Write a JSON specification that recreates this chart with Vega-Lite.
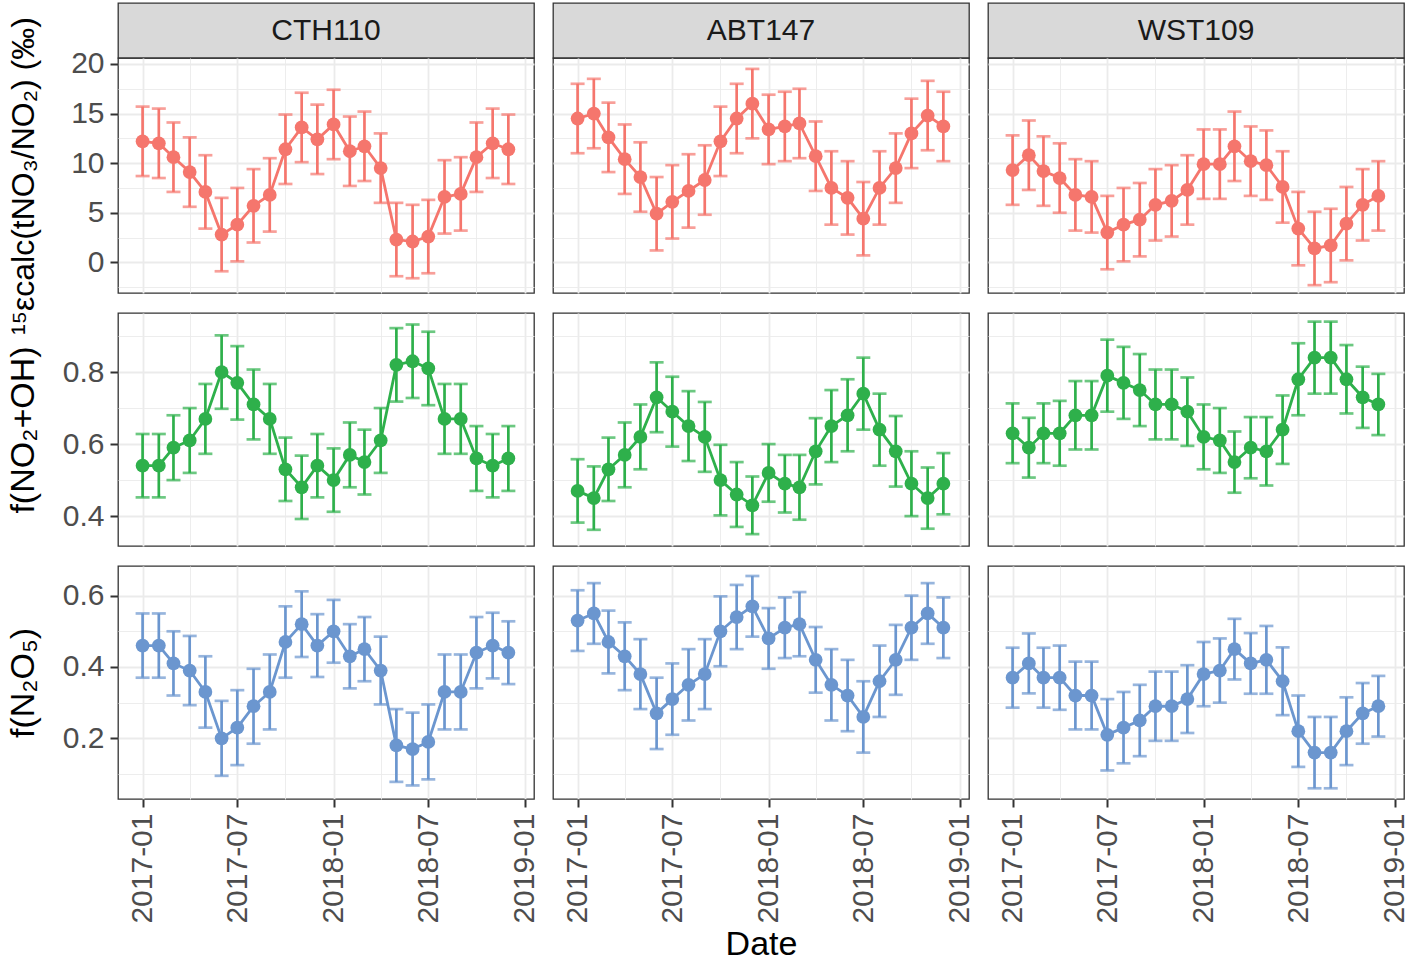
{
"$schema": "https://vega.github.io/schema/vega-lite/v6.json",
"background": "white",
"padding": {"left": 5, "top": 2, "right": 2, "bottom": 1},
"config": {
  "font": "Liberation Sans",
  "view": {"stroke": "#333333", "strokeWidth": 1.3},
  "axis": {"domain": false, "gridColor": "#EBEBEB", "labelColor": "#4D4D4D", "labelFontSize": 30, "labelFont": "Liberation Sans", "tickColor": "#333333", "tickWidth": 2, "tickSize": 8, "labelPadding": 6, "titleFont": "Liberation Sans", "titleFontSize": 34, "titleFontWeight": "normal", "titleColor": "#000000", "titleLimit": 2000},
  "axisY": {"minExtent": 57, "maxExtent": 57, "titlePadding": 21}
},
"datasets": {
"d": [
{"s":"CTH110","k":"eps","d":"2017-01-01","v":12.2,"e":3.5},
{"s":"CTH110","k":"eps","d":"2017-02-01","v":12.0,"e":3.5},
{"s":"CTH110","k":"eps","d":"2017-03-01","v":10.6,"e":3.5},
{"s":"CTH110","k":"eps","d":"2017-04-01","v":9.1,"e":3.5},
{"s":"CTH110","k":"eps","d":"2017-05-01","v":7.1,"e":3.7},
{"s":"CTH110","k":"eps","d":"2017-06-01","v":2.8,"e":3.7},
{"s":"CTH110","k":"eps","d":"2017-07-01","v":3.8,"e":3.7},
{"s":"CTH110","k":"eps","d":"2017-08-01","v":5.7,"e":3.7},
{"s":"CTH110","k":"eps","d":"2017-09-01","v":6.8,"e":3.7},
{"s":"CTH110","k":"eps","d":"2017-10-01","v":11.4,"e":3.5},
{"s":"CTH110","k":"eps","d":"2017-11-01","v":13.6,"e":3.5},
{"s":"CTH110","k":"eps","d":"2017-12-01","v":12.4,"e":3.5},
{"s":"CTH110","k":"eps","d":"2018-01-01","v":13.9,"e":3.5},
{"s":"CTH110","k":"eps","d":"2018-02-01","v":11.2,"e":3.5},
{"s":"CTH110","k":"eps","d":"2018-03-01","v":11.7,"e":3.5},
{"s":"CTH110","k":"eps","d":"2018-04-01","v":9.5,"e":3.5},
{"s":"CTH110","k":"eps","d":"2018-05-01","v":2.3,"e":3.7},
{"s":"CTH110","k":"eps","d":"2018-06-01","v":2.1,"e":3.7},
{"s":"CTH110","k":"eps","d":"2018-07-01","v":2.6,"e":3.7},
{"s":"CTH110","k":"eps","d":"2018-08-01","v":6.6,"e":3.7},
{"s":"CTH110","k":"eps","d":"2018-09-01","v":6.9,"e":3.7},
{"s":"CTH110","k":"eps","d":"2018-10-01","v":10.6,"e":3.5},
{"s":"CTH110","k":"eps","d":"2018-11-01","v":12.0,"e":3.5},
{"s":"CTH110","k":"eps","d":"2018-12-01","v":11.4,"e":3.5},
{"s":"ABT147","k":"eps","d":"2017-01-01","v":14.5,"e":3.5},
{"s":"ABT147","k":"eps","d":"2017-02-01","v":15.0,"e":3.5},
{"s":"ABT147","k":"eps","d":"2017-03-01","v":12.6,"e":3.5},
{"s":"ABT147","k":"eps","d":"2017-04-01","v":10.4,"e":3.5},
{"s":"ABT147","k":"eps","d":"2017-05-01","v":8.6,"e":3.5},
{"s":"ABT147","k":"eps","d":"2017-06-01","v":4.9,"e":3.7},
{"s":"ABT147","k":"eps","d":"2017-07-01","v":6.1,"e":3.7},
{"s":"ABT147","k":"eps","d":"2017-08-01","v":7.2,"e":3.7},
{"s":"ABT147","k":"eps","d":"2017-09-01","v":8.3,"e":3.5},
{"s":"ABT147","k":"eps","d":"2017-10-01","v":12.2,"e":3.5},
{"s":"ABT147","k":"eps","d":"2017-11-01","v":14.5,"e":3.5},
{"s":"ABT147","k":"eps","d":"2017-12-01","v":16.0,"e":3.5},
{"s":"ABT147","k":"eps","d":"2018-01-01","v":13.4,"e":3.5},
{"s":"ABT147","k":"eps","d":"2018-02-01","v":13.7,"e":3.5},
{"s":"ABT147","k":"eps","d":"2018-03-01","v":14.0,"e":3.5},
{"s":"ABT147","k":"eps","d":"2018-04-01","v":10.7,"e":3.5},
{"s":"ABT147","k":"eps","d":"2018-05-01","v":7.5,"e":3.7},
{"s":"ABT147","k":"eps","d":"2018-06-01","v":6.5,"e":3.7},
{"s":"ABT147","k":"eps","d":"2018-07-01","v":4.4,"e":3.7},
{"s":"ABT147","k":"eps","d":"2018-08-01","v":7.5,"e":3.7},
{"s":"ABT147","k":"eps","d":"2018-09-01","v":9.5,"e":3.5},
{"s":"ABT147","k":"eps","d":"2018-10-01","v":13.0,"e":3.5},
{"s":"ABT147","k":"eps","d":"2018-11-01","v":14.8,"e":3.5},
{"s":"ABT147","k":"eps","d":"2018-12-01","v":13.7,"e":3.5},
{"s":"WST109","k":"eps","d":"2017-01-01","v":9.3,"e":3.5},
{"s":"WST109","k":"eps","d":"2017-02-01","v":10.8,"e":3.5},
{"s":"WST109","k":"eps","d":"2017-03-01","v":9.2,"e":3.5},
{"s":"WST109","k":"eps","d":"2017-04-01","v":8.5,"e":3.5},
{"s":"WST109","k":"eps","d":"2017-05-01","v":6.8,"e":3.6},
{"s":"WST109","k":"eps","d":"2017-06-01","v":6.6,"e":3.6},
{"s":"WST109","k":"eps","d":"2017-07-01","v":3.0,"e":3.7},
{"s":"WST109","k":"eps","d":"2017-08-01","v":3.8,"e":3.7},
{"s":"WST109","k":"eps","d":"2017-09-01","v":4.3,"e":3.7},
{"s":"WST109","k":"eps","d":"2017-10-01","v":5.8,"e":3.6},
{"s":"WST109","k":"eps","d":"2017-11-01","v":6.2,"e":3.6},
{"s":"WST109","k":"eps","d":"2017-12-01","v":7.3,"e":3.5},
{"s":"WST109","k":"eps","d":"2018-01-01","v":9.9,"e":3.5},
{"s":"WST109","k":"eps","d":"2018-02-01","v":9.9,"e":3.5},
{"s":"WST109","k":"eps","d":"2018-03-01","v":11.7,"e":3.5},
{"s":"WST109","k":"eps","d":"2018-04-01","v":10.2,"e":3.5},
{"s":"WST109","k":"eps","d":"2018-05-01","v":9.8,"e":3.5},
{"s":"WST109","k":"eps","d":"2018-06-01","v":7.6,"e":3.6},
{"s":"WST109","k":"eps","d":"2018-07-01","v":3.4,"e":3.7},
{"s":"WST109","k":"eps","d":"2018-08-01","v":1.4,"e":3.7},
{"s":"WST109","k":"eps","d":"2018-09-01","v":1.7,"e":3.7},
{"s":"WST109","k":"eps","d":"2018-10-01","v":3.9,"e":3.7},
{"s":"WST109","k":"eps","d":"2018-11-01","v":5.8,"e":3.6},
{"s":"WST109","k":"eps","d":"2018-12-01","v":6.7,"e":3.5},
{"s":"CTH110","k":"oh","d":"2017-01-01","v":0.54,"e":0.088},
{"s":"CTH110","k":"oh","d":"2017-02-01","v":0.54,"e":0.088},
{"s":"CTH110","k":"oh","d":"2017-03-01","v":0.59,"e":0.09},
{"s":"CTH110","k":"oh","d":"2017-04-01","v":0.61,"e":0.09},
{"s":"CTH110","k":"oh","d":"2017-05-01","v":0.67,"e":0.097},
{"s":"CTH110","k":"oh","d":"2017-06-01","v":0.80,"e":0.102},
{"s":"CTH110","k":"oh","d":"2017-07-01","v":0.77,"e":0.102},
{"s":"CTH110","k":"oh","d":"2017-08-01","v":0.71,"e":0.097},
{"s":"CTH110","k":"oh","d":"2017-09-01","v":0.67,"e":0.097},
{"s":"CTH110","k":"oh","d":"2017-10-01","v":0.53,"e":0.088},
{"s":"CTH110","k":"oh","d":"2017-11-01","v":0.48,"e":0.088},
{"s":"CTH110","k":"oh","d":"2017-12-01","v":0.54,"e":0.088},
{"s":"CTH110","k":"oh","d":"2018-01-01","v":0.50,"e":0.088},
{"s":"CTH110","k":"oh","d":"2018-02-01","v":0.57,"e":0.09},
{"s":"CTH110","k":"oh","d":"2018-03-01","v":0.55,"e":0.09},
{"s":"CTH110","k":"oh","d":"2018-04-01","v":0.61,"e":0.09},
{"s":"CTH110","k":"oh","d":"2018-05-01","v":0.82,"e":0.102},
{"s":"CTH110","k":"oh","d":"2018-06-01","v":0.83,"e":0.102},
{"s":"CTH110","k":"oh","d":"2018-07-01","v":0.81,"e":0.102},
{"s":"CTH110","k":"oh","d":"2018-08-01","v":0.67,"e":0.097},
{"s":"CTH110","k":"oh","d":"2018-09-01","v":0.67,"e":0.097},
{"s":"CTH110","k":"oh","d":"2018-10-01","v":0.56,"e":0.09},
{"s":"CTH110","k":"oh","d":"2018-11-01","v":0.54,"e":0.088},
{"s":"CTH110","k":"oh","d":"2018-12-01","v":0.56,"e":0.09},
{"s":"ABT147","k":"oh","d":"2017-01-01","v":0.47,"e":0.088},
{"s":"ABT147","k":"oh","d":"2017-02-01","v":0.45,"e":0.088},
{"s":"ABT147","k":"oh","d":"2017-03-01","v":0.53,"e":0.088},
{"s":"ABT147","k":"oh","d":"2017-04-01","v":0.57,"e":0.09},
{"s":"ABT147","k":"oh","d":"2017-05-01","v":0.62,"e":0.09},
{"s":"ABT147","k":"oh","d":"2017-06-01","v":0.73,"e":0.097},
{"s":"ABT147","k":"oh","d":"2017-07-01","v":0.69,"e":0.097},
{"s":"ABT147","k":"oh","d":"2017-08-01","v":0.65,"e":0.097},
{"s":"ABT147","k":"oh","d":"2017-09-01","v":0.62,"e":0.097},
{"s":"ABT147","k":"oh","d":"2017-10-01","v":0.50,"e":0.098},
{"s":"ABT147","k":"oh","d":"2017-11-01","v":0.46,"e":0.09},
{"s":"ABT147","k":"oh","d":"2017-12-01","v":0.43,"e":0.08},
{"s":"ABT147","k":"oh","d":"2018-01-01","v":0.52,"e":0.08},
{"s":"ABT147","k":"oh","d":"2018-02-01","v":0.49,"e":0.08},
{"s":"ABT147","k":"oh","d":"2018-03-01","v":0.48,"e":0.09},
{"s":"ABT147","k":"oh","d":"2018-04-01","v":0.58,"e":0.092},
{"s":"ABT147","k":"oh","d":"2018-05-01","v":0.65,"e":0.1},
{"s":"ABT147","k":"oh","d":"2018-06-01","v":0.68,"e":0.1},
{"s":"ABT147","k":"oh","d":"2018-07-01","v":0.74,"e":0.1},
{"s":"ABT147","k":"oh","d":"2018-08-01","v":0.64,"e":0.1},
{"s":"ABT147","k":"oh","d":"2018-09-01","v":0.58,"e":0.098},
{"s":"ABT147","k":"oh","d":"2018-10-01","v":0.49,"e":0.09},
{"s":"ABT147","k":"oh","d":"2018-11-01","v":0.45,"e":0.085},
{"s":"ABT147","k":"oh","d":"2018-12-01","v":0.49,"e":0.085},
{"s":"WST109","k":"oh","d":"2017-01-01","v":0.63,"e":0.083},
{"s":"WST109","k":"oh","d":"2017-02-01","v":0.59,"e":0.083},
{"s":"WST109","k":"oh","d":"2017-03-01","v":0.63,"e":0.083},
{"s":"WST109","k":"oh","d":"2017-04-01","v":0.63,"e":0.09},
{"s":"WST109","k":"oh","d":"2017-05-01","v":0.68,"e":0.095},
{"s":"WST109","k":"oh","d":"2017-06-01","v":0.68,"e":0.095},
{"s":"WST109","k":"oh","d":"2017-07-01","v":0.79,"e":0.1},
{"s":"WST109","k":"oh","d":"2017-08-01","v":0.77,"e":0.1},
{"s":"WST109","k":"oh","d":"2017-09-01","v":0.75,"e":0.1},
{"s":"WST109","k":"oh","d":"2017-10-01","v":0.71,"e":0.097},
{"s":"WST109","k":"oh","d":"2017-11-01","v":0.71,"e":0.097},
{"s":"WST109","k":"oh","d":"2017-12-01","v":0.69,"e":0.095},
{"s":"WST109","k":"oh","d":"2018-01-01","v":0.62,"e":0.09},
{"s":"WST109","k":"oh","d":"2018-02-01","v":0.61,"e":0.09},
{"s":"WST109","k":"oh","d":"2018-03-01","v":0.55,"e":0.085},
{"s":"WST109","k":"oh","d":"2018-04-01","v":0.59,"e":0.085},
{"s":"WST109","k":"oh","d":"2018-05-01","v":0.58,"e":0.095},
{"s":"WST109","k":"oh","d":"2018-06-01","v":0.64,"e":0.095},
{"s":"WST109","k":"oh","d":"2018-07-01","v":0.78,"e":0.1},
{"s":"WST109","k":"oh","d":"2018-08-01","v":0.84,"e":0.1},
{"s":"WST109","k":"oh","d":"2018-09-01","v":0.84,"e":0.1},
{"s":"WST109","k":"oh","d":"2018-10-01","v":0.78,"e":0.095},
{"s":"WST109","k":"oh","d":"2018-11-01","v":0.73,"e":0.085},
{"s":"WST109","k":"oh","d":"2018-12-01","v":0.71,"e":0.085},
{"s":"CTH110","k":"n2o5","d":"2017-01-01","v":0.46,"e":0.09},
{"s":"CTH110","k":"n2o5","d":"2017-02-01","v":0.46,"e":0.09},
{"s":"CTH110","k":"n2o5","d":"2017-03-01","v":0.41,"e":0.09},
{"s":"CTH110","k":"n2o5","d":"2017-04-01","v":0.39,"e":0.097},
{"s":"CTH110","k":"n2o5","d":"2017-05-01","v":0.33,"e":0.1},
{"s":"CTH110","k":"n2o5","d":"2017-06-01","v":0.20,"e":0.105},
{"s":"CTH110","k":"n2o5","d":"2017-07-01","v":0.23,"e":0.105},
{"s":"CTH110","k":"n2o5","d":"2017-08-01","v":0.29,"e":0.105},
{"s":"CTH110","k":"n2o5","d":"2017-09-01","v":0.33,"e":0.105},
{"s":"CTH110","k":"n2o5","d":"2017-10-01","v":0.47,"e":0.1},
{"s":"CTH110","k":"n2o5","d":"2017-11-01","v":0.52,"e":0.092},
{"s":"CTH110","k":"n2o5","d":"2017-12-01","v":0.46,"e":0.088},
{"s":"CTH110","k":"n2o5","d":"2018-01-01","v":0.50,"e":0.088},
{"s":"CTH110","k":"n2o5","d":"2018-02-01","v":0.43,"e":0.09},
{"s":"CTH110","k":"n2o5","d":"2018-03-01","v":0.45,"e":0.09},
{"s":"CTH110","k":"n2o5","d":"2018-04-01","v":0.39,"e":0.095},
{"s":"CTH110","k":"n2o5","d":"2018-05-01","v":0.18,"e":0.102},
{"s":"CTH110","k":"n2o5","d":"2018-06-01","v":0.17,"e":0.102},
{"s":"CTH110","k":"n2o5","d":"2018-07-01","v":0.19,"e":0.105},
{"s":"CTH110","k":"n2o5","d":"2018-08-01","v":0.33,"e":0.105},
{"s":"CTH110","k":"n2o5","d":"2018-09-01","v":0.33,"e":0.105},
{"s":"CTH110","k":"n2o5","d":"2018-10-01","v":0.44,"e":0.1},
{"s":"CTH110","k":"n2o5","d":"2018-11-01","v":0.46,"e":0.092},
{"s":"CTH110","k":"n2o5","d":"2018-12-01","v":0.44,"e":0.088},
{"s":"ABT147","k":"n2o5","d":"2017-01-01","v":0.53,"e":0.085},
{"s":"ABT147","k":"n2o5","d":"2017-02-01","v":0.55,"e":0.085},
{"s":"ABT147","k":"n2o5","d":"2017-03-01","v":0.47,"e":0.088},
{"s":"ABT147","k":"n2o5","d":"2017-04-01","v":0.43,"e":0.095},
{"s":"ABT147","k":"n2o5","d":"2017-05-01","v":0.38,"e":0.098},
{"s":"ABT147","k":"n2o5","d":"2017-06-01","v":0.27,"e":0.1},
{"s":"ABT147","k":"n2o5","d":"2017-07-01","v":0.31,"e":0.1},
{"s":"ABT147","k":"n2o5","d":"2017-08-01","v":0.35,"e":0.1},
{"s":"ABT147","k":"n2o5","d":"2017-09-01","v":0.38,"e":0.098},
{"s":"ABT147","k":"n2o5","d":"2017-10-01","v":0.50,"e":0.098},
{"s":"ABT147","k":"n2o5","d":"2017-11-01","v":0.54,"e":0.09},
{"s":"ABT147","k":"n2o5","d":"2017-12-01","v":0.57,"e":0.085},
{"s":"ABT147","k":"n2o5","d":"2018-01-01","v":0.48,"e":0.085},
{"s":"ABT147","k":"n2o5","d":"2018-02-01","v":0.51,"e":0.085},
{"s":"ABT147","k":"n2o5","d":"2018-03-01","v":0.52,"e":0.09},
{"s":"ABT147","k":"n2o5","d":"2018-04-01","v":0.42,"e":0.092},
{"s":"ABT147","k":"n2o5","d":"2018-05-01","v":0.35,"e":0.1},
{"s":"ABT147","k":"n2o5","d":"2018-06-01","v":0.32,"e":0.1},
{"s":"ABT147","k":"n2o5","d":"2018-07-01","v":0.26,"e":0.1},
{"s":"ABT147","k":"n2o5","d":"2018-08-01","v":0.36,"e":0.1},
{"s":"ABT147","k":"n2o5","d":"2018-09-01","v":0.42,"e":0.098},
{"s":"ABT147","k":"n2o5","d":"2018-10-01","v":0.51,"e":0.09},
{"s":"ABT147","k":"n2o5","d":"2018-11-01","v":0.55,"e":0.085},
{"s":"ABT147","k":"n2o5","d":"2018-12-01","v":0.51,"e":0.085},
{"s":"WST109","k":"n2o5","d":"2017-01-01","v":0.37,"e":0.084},
{"s":"WST109","k":"n2o5","d":"2017-02-01","v":0.41,"e":0.084},
{"s":"WST109","k":"n2o5","d":"2017-03-01","v":0.37,"e":0.084},
{"s":"WST109","k":"n2o5","d":"2017-04-01","v":0.37,"e":0.09},
{"s":"WST109","k":"n2o5","d":"2017-05-01","v":0.32,"e":0.095},
{"s":"WST109","k":"n2o5","d":"2017-06-01","v":0.32,"e":0.095},
{"s":"WST109","k":"n2o5","d":"2017-07-01","v":0.21,"e":0.1},
{"s":"WST109","k":"n2o5","d":"2017-08-01","v":0.23,"e":0.1},
{"s":"WST109","k":"n2o5","d":"2017-09-01","v":0.25,"e":0.1},
{"s":"WST109","k":"n2o5","d":"2017-10-01","v":0.29,"e":0.097},
{"s":"WST109","k":"n2o5","d":"2017-11-01","v":0.29,"e":0.097},
{"s":"WST109","k":"n2o5","d":"2017-12-01","v":0.31,"e":0.095},
{"s":"WST109","k":"n2o5","d":"2018-01-01","v":0.38,"e":0.09},
{"s":"WST109","k":"n2o5","d":"2018-02-01","v":0.39,"e":0.09},
{"s":"WST109","k":"n2o5","d":"2018-03-01","v":0.45,"e":0.085},
{"s":"WST109","k":"n2o5","d":"2018-04-01","v":0.41,"e":0.085},
{"s":"WST109","k":"n2o5","d":"2018-05-01","v":0.42,"e":0.095},
{"s":"WST109","k":"n2o5","d":"2018-06-01","v":0.36,"e":0.095},
{"s":"WST109","k":"n2o5","d":"2018-07-01","v":0.22,"e":0.1},
{"s":"WST109","k":"n2o5","d":"2018-08-01","v":0.16,"e":0.1},
{"s":"WST109","k":"n2o5","d":"2018-09-01","v":0.16,"e":0.1},
{"s":"WST109","k":"n2o5","d":"2018-10-01","v":0.22,"e":0.095},
{"s":"WST109","k":"n2o5","d":"2018-11-01","v":0.27,"e":0.085},
{"s":"WST109","k":"n2o5","d":"2018-12-01","v":0.29,"e":0.085}
]
},
"bounds": "flush",
"columns": 3,
"spacing": {"row": 0, "column": 19},
"resolve": {"scale": {"x": "independent", "y": "independent"}, "axis": {"x": "independent", "y": "independent"}},
"concat": [
{"width": 416, "height": 55, "data": {"values": [{"s": "CTH110"}]}, "view": {"fill": "#D9D9D9", "stroke": "#333333", "strokeWidth": 1.3}, "mark": {"type": "text", "fontSize": 30, "color": "#1A1A1A"}, "encoding": {"text": {"field": "s"}}},
{"width": 416, "height": 55, "data": {"values": [{"s": "ABT147"}]}, "view": {"fill": "#D9D9D9", "stroke": "#333333", "strokeWidth": 1.3}, "mark": {"type": "text", "fontSize": 30, "color": "#1A1A1A"}, "encoding": {"text": {"field": "s"}}},
{"width": 416, "height": 55, "data": {"values": [{"s": "WST109"}]}, "view": {"fill": "#D9D9D9", "stroke": "#333333", "strokeWidth": 1.3}, "mark": {"type": "text", "fontSize": 30, "color": "#1A1A1A"}, "encoding": {"text": {"field": "s"}}},

{"width": 416, "height": 235, "data": {"name": "d"}, "transform": [{"filter": "datum.s == 'CTH110' && datum.k == 'eps'"}],
 "encoding": {
  "x": {"field": "d", "type": "temporal", "title": null, "scale": {"type": "utc", "nice": false, "domain": [{"year": 2016, "month": 11, "date": 15, "utc": true}, {"year": 2019, "month": 1, "date": 19, "utc": true}]}, "axis": {"labels": false, "ticks": false, "values": [{"year": 2017, "month": 1, "date": 1, "utc": true}, {"year": 2017, "month": 4, "date": 1, "utc": true}, {"year": 2017, "month": 7, "date": 1, "utc": true}, {"year": 2017, "month": 10, "date": 1, "utc": true}, {"year": 2018, "month": 1, "date": 1, "utc": true}, {"year": 2018, "month": 4, "date": 1, "utc": true}, {"year": 2018, "month": 7, "date": 1, "utc": true}, {"year": 2018, "month": 10, "date": 1, "utc": true}, {"year": 2019, "month": 1, "date": 1, "utc": true}], "gridWidth": {"condition": {"test": "utcmonth(datum.value) % 6 == 0", "value": 1.8}, "value": 0.9}}},
  "y": {"field": "v", "type": "quantitative", "title": "¹⁵εcalc(tNO₃/NO₂) (‰)", "scale": {"domain": [-3.09, 20.6], "nice": false, "zero": false}, "axis": {"titleFontSize": 32, "values": [-2.5, 0, 2.5, 5, 7.5, 10, 12.5, 15, 17.5, 20], "labelExpr": "datum.value % 5 == 0 ? format(datum.value, 'd') : ''", "tickOpacity": {"condition": {"test": "datum.value % 5 == 0", "value": 1}, "value": 0}, "gridWidth": {"condition": {"test": "datum.value % 5 == 0", "value": 1.8}, "value": 0.9}}}
 },
 "layer": [
  {"mark": {"type": "line", "color": "#F5766D", "strokeWidth": 2.8}},
  {"mark": {"type": "errorbar", "color": "#F5766D", "thickness": 2.7, "ticks": {"size": 14}}, "encoding": {"yError": {"field": "e"}}},
  {"mark": {"type": "point", "filled": true, "opacity": 1, "size": 190, "color": "#F5766D"}}
 ]},
{"width": 416, "height": 235, "data": {"name": "d"}, "transform": [{"filter": "datum.s == 'ABT147' && datum.k == 'eps'"}],
 "encoding": {
  "x": {"field": "d", "type": "temporal", "title": null, "scale": {"type": "utc", "nice": false, "domain": [{"year": 2016, "month": 11, "date": 15, "utc": true}, {"year": 2019, "month": 1, "date": 19, "utc": true}]}, "axis": {"labels": false, "ticks": false, "values": [{"year": 2017, "month": 1, "date": 1, "utc": true}, {"year": 2017, "month": 4, "date": 1, "utc": true}, {"year": 2017, "month": 7, "date": 1, "utc": true}, {"year": 2017, "month": 10, "date": 1, "utc": true}, {"year": 2018, "month": 1, "date": 1, "utc": true}, {"year": 2018, "month": 4, "date": 1, "utc": true}, {"year": 2018, "month": 7, "date": 1, "utc": true}, {"year": 2018, "month": 10, "date": 1, "utc": true}, {"year": 2019, "month": 1, "date": 1, "utc": true}], "gridWidth": {"condition": {"test": "utcmonth(datum.value) % 6 == 0", "value": 1.8}, "value": 0.9}}},
  "y": {"field": "v", "type": "quantitative", "title": null, "scale": {"domain": [-3.09, 20.6], "nice": false, "zero": false}, "axis": {"labels": false, "ticks": false, "values": [-2.5, 0, 2.5, 5, 7.5, 10, 12.5, 15, 17.5, 20], "gridWidth": {"condition": {"test": "datum.value % 5 == 0", "value": 1.8}, "value": 0.9}}}
 },
 "layer": [
  {"mark": {"type": "line", "color": "#F5766D", "strokeWidth": 2.8}},
  {"mark": {"type": "errorbar", "color": "#F5766D", "thickness": 2.7, "ticks": {"size": 14}}, "encoding": {"yError": {"field": "e"}}},
  {"mark": {"type": "point", "filled": true, "opacity": 1, "size": 190, "color": "#F5766D"}}
 ]},
{"width": 416, "height": 235, "data": {"name": "d"}, "transform": [{"filter": "datum.s == 'WST109' && datum.k == 'eps'"}],
 "encoding": {
  "x": {"field": "d", "type": "temporal", "title": null, "scale": {"type": "utc", "nice": false, "domain": [{"year": 2016, "month": 11, "date": 15, "utc": true}, {"year": 2019, "month": 1, "date": 19, "utc": true}]}, "axis": {"labels": false, "ticks": false, "values": [{"year": 2017, "month": 1, "date": 1, "utc": true}, {"year": 2017, "month": 4, "date": 1, "utc": true}, {"year": 2017, "month": 7, "date": 1, "utc": true}, {"year": 2017, "month": 10, "date": 1, "utc": true}, {"year": 2018, "month": 1, "date": 1, "utc": true}, {"year": 2018, "month": 4, "date": 1, "utc": true}, {"year": 2018, "month": 7, "date": 1, "utc": true}, {"year": 2018, "month": 10, "date": 1, "utc": true}, {"year": 2019, "month": 1, "date": 1, "utc": true}], "gridWidth": {"condition": {"test": "utcmonth(datum.value) % 6 == 0", "value": 1.8}, "value": 0.9}}},
  "y": {"field": "v", "type": "quantitative", "title": null, "scale": {"domain": [-3.09, 20.6], "nice": false, "zero": false}, "axis": {"labels": false, "ticks": false, "values": [-2.5, 0, 2.5, 5, 7.5, 10, 12.5, 15, 17.5, 20], "gridWidth": {"condition": {"test": "datum.value % 5 == 0", "value": 1.8}, "value": 0.9}}}
 },
 "layer": [
  {"mark": {"type": "line", "color": "#F5766D", "strokeWidth": 2.8}},
  {"mark": {"type": "errorbar", "color": "#F5766D", "thickness": 2.7, "ticks": {"size": 14}}, "encoding": {"yError": {"field": "e"}}},
  {"mark": {"type": "point", "filled": true, "opacity": 1, "size": 190, "color": "#F5766D"}}
 ]},

{"width": 416, "height": 20, "data": {"values": []}, "view": {"stroke": null}, "mark": "text", "encoding": {"text": {"field": "s"}}},
{"width": 416, "height": 20, "data": {"values": []}, "view": {"stroke": null}, "mark": "text", "encoding": {"text": {"field": "s"}}},
{"width": 416, "height": 20, "data": {"values": []}, "view": {"stroke": null}, "mark": "text", "encoding": {"text": {"field": "s"}}},

{"width": 416, "height": 233, "data": {"name": "d"}, "transform": [{"filter": "datum.s == 'CTH110' && datum.k == 'oh'"}],
 "encoding": {
  "x": {"field": "d", "type": "temporal", "title": null, "scale": {"type": "utc", "nice": false, "domain": [{"year": 2016, "month": 11, "date": 15, "utc": true}, {"year": 2019, "month": 1, "date": 19, "utc": true}]}, "axis": {"labels": false, "ticks": false, "values": [{"year": 2017, "month": 1, "date": 1, "utc": true}, {"year": 2017, "month": 4, "date": 1, "utc": true}, {"year": 2017, "month": 7, "date": 1, "utc": true}, {"year": 2017, "month": 10, "date": 1, "utc": true}, {"year": 2018, "month": 1, "date": 1, "utc": true}, {"year": 2018, "month": 4, "date": 1, "utc": true}, {"year": 2018, "month": 7, "date": 1, "utc": true}, {"year": 2018, "month": 10, "date": 1, "utc": true}, {"year": 2019, "month": 1, "date": 1, "utc": true}], "gridWidth": {"condition": {"test": "utcmonth(datum.value) % 6 == 0", "value": 1.8}, "value": 0.9}}},
  "y": {"field": "v", "type": "quantitative", "title": "f(NO₂+OH)", "scale": {"domain": [0.317, 0.964], "nice": false, "zero": false}, "axis": {"values": [0.4, 0.5, 0.6, 0.7, 0.8, 0.9], "labelExpr": "round(datum.value * 10) % 2 == 0 ? format(datum.value, '.1f') : ''", "tickOpacity": {"condition": {"test": "round(datum.value * 10) % 2 == 0", "value": 1}, "value": 0}, "gridWidth": {"condition": {"test": "round(datum.value * 10) % 2 == 0", "value": 1.8}, "value": 0.9}}}
 },
 "layer": [
  {"mark": {"type": "line", "color": "#2EB04B", "strokeWidth": 2.8}},
  {"mark": {"type": "errorbar", "color": "#2EB04B", "thickness": 2.7, "ticks": {"size": 14}}, "encoding": {"yError": {"field": "e"}}},
  {"mark": {"type": "point", "filled": true, "opacity": 1, "size": 190, "color": "#2EB04B"}}
 ]},
{"width": 416, "height": 233, "data": {"name": "d"}, "transform": [{"filter": "datum.s == 'ABT147' && datum.k == 'oh'"}],
 "encoding": {
  "x": {"field": "d", "type": "temporal", "title": null, "scale": {"type": "utc", "nice": false, "domain": [{"year": 2016, "month": 11, "date": 15, "utc": true}, {"year": 2019, "month": 1, "date": 19, "utc": true}]}, "axis": {"labels": false, "ticks": false, "values": [{"year": 2017, "month": 1, "date": 1, "utc": true}, {"year": 2017, "month": 4, "date": 1, "utc": true}, {"year": 2017, "month": 7, "date": 1, "utc": true}, {"year": 2017, "month": 10, "date": 1, "utc": true}, {"year": 2018, "month": 1, "date": 1, "utc": true}, {"year": 2018, "month": 4, "date": 1, "utc": true}, {"year": 2018, "month": 7, "date": 1, "utc": true}, {"year": 2018, "month": 10, "date": 1, "utc": true}, {"year": 2019, "month": 1, "date": 1, "utc": true}], "gridWidth": {"condition": {"test": "utcmonth(datum.value) % 6 == 0", "value": 1.8}, "value": 0.9}}},
  "y": {"field": "v", "type": "quantitative", "title": null, "scale": {"domain": [0.317, 0.964], "nice": false, "zero": false}, "axis": {"labels": false, "ticks": false, "values": [0.4, 0.5, 0.6, 0.7, 0.8, 0.9], "gridWidth": {"condition": {"test": "round(datum.value * 10) % 2 == 0", "value": 1.8}, "value": 0.9}}}
 },
 "layer": [
  {"mark": {"type": "line", "color": "#2EB04B", "strokeWidth": 2.8}},
  {"mark": {"type": "errorbar", "color": "#2EB04B", "thickness": 2.7, "ticks": {"size": 14}}, "encoding": {"yError": {"field": "e"}}},
  {"mark": {"type": "point", "filled": true, "opacity": 1, "size": 190, "color": "#2EB04B"}}
 ]},
{"width": 416, "height": 233, "data": {"name": "d"}, "transform": [{"filter": "datum.s == 'WST109' && datum.k == 'oh'"}],
 "encoding": {
  "x": {"field": "d", "type": "temporal", "title": null, "scale": {"type": "utc", "nice": false, "domain": [{"year": 2016, "month": 11, "date": 15, "utc": true}, {"year": 2019, "month": 1, "date": 19, "utc": true}]}, "axis": {"labels": false, "ticks": false, "values": [{"year": 2017, "month": 1, "date": 1, "utc": true}, {"year": 2017, "month": 4, "date": 1, "utc": true}, {"year": 2017, "month": 7, "date": 1, "utc": true}, {"year": 2017, "month": 10, "date": 1, "utc": true}, {"year": 2018, "month": 1, "date": 1, "utc": true}, {"year": 2018, "month": 4, "date": 1, "utc": true}, {"year": 2018, "month": 7, "date": 1, "utc": true}, {"year": 2018, "month": 10, "date": 1, "utc": true}, {"year": 2019, "month": 1, "date": 1, "utc": true}], "gridWidth": {"condition": {"test": "utcmonth(datum.value) % 6 == 0", "value": 1.8}, "value": 0.9}}},
  "y": {"field": "v", "type": "quantitative", "title": null, "scale": {"domain": [0.317, 0.964], "nice": false, "zero": false}, "axis": {"labels": false, "ticks": false, "values": [0.4, 0.5, 0.6, 0.7, 0.8, 0.9], "gridWidth": {"condition": {"test": "round(datum.value * 10) % 2 == 0", "value": 1.8}, "value": 0.9}}}
 },
 "layer": [
  {"mark": {"type": "line", "color": "#2EB04B", "strokeWidth": 2.8}},
  {"mark": {"type": "errorbar", "color": "#2EB04B", "thickness": 2.7, "ticks": {"size": 14}}, "encoding": {"yError": {"field": "e"}}},
  {"mark": {"type": "point", "filled": true, "opacity": 1, "size": 190, "color": "#2EB04B"}}
 ]},

{"width": 416, "height": 20, "data": {"values": []}, "view": {"stroke": null}, "mark": "text", "encoding": {"text": {"field": "s"}}},
{"width": 416, "height": 20, "data": {"values": []}, "view": {"stroke": null}, "mark": "text", "encoding": {"text": {"field": "s"}}},
{"width": 416, "height": 20, "data": {"values": []}, "view": {"stroke": null}, "mark": "text", "encoding": {"text": {"field": "s"}}},

{"width": 416, "height": 233, "data": {"name": "d"}, "transform": [{"filter": "datum.s == 'CTH110' && datum.k == 'n2o5'"}],
 "encoding": {
  "x": {"field": "d", "type": "temporal", "title": null, "scale": {"type": "utc", "nice": false, "domain": [{"year": 2016, "month": 11, "date": 15, "utc": true}, {"year": 2019, "month": 1, "date": 19, "utc": true}]}, "axis": {"labelAngle": 270, "labelOverlap": false, "labelPadding": 6, "labelExpr": "utcmonth(datum.value) % 6 == 0 ? utcFormat(datum.value, '%Y-%m') : ''", "tickOpacity": {"condition": {"test": "utcmonth(datum.value) % 6 == 0", "value": 1}, "value": 0}, "values": [{"year": 2017, "month": 1, "date": 1, "utc": true}, {"year": 2017, "month": 4, "date": 1, "utc": true}, {"year": 2017, "month": 7, "date": 1, "utc": true}, {"year": 2017, "month": 10, "date": 1, "utc": true}, {"year": 2018, "month": 1, "date": 1, "utc": true}, {"year": 2018, "month": 4, "date": 1, "utc": true}, {"year": 2018, "month": 7, "date": 1, "utc": true}, {"year": 2018, "month": 10, "date": 1, "utc": true}, {"year": 2019, "month": 1, "date": 1, "utc": true}], "gridWidth": {"condition": {"test": "utcmonth(datum.value) % 6 == 0", "value": 1.8}, "value": 0.9}}},
  "y": {"field": "v", "type": "quantitative", "title": "f(N₂O₅)", "scale": {"domain": [0.03, 0.683], "nice": false, "zero": false}, "axis": {"values": [0.1, 0.2, 0.3, 0.4, 0.5, 0.6], "labelExpr": "round(datum.value * 10) % 2 == 0 ? format(datum.value, '.1f') : ''", "tickOpacity": {"condition": {"test": "round(datum.value * 10) % 2 == 0", "value": 1}, "value": 0}, "gridWidth": {"condition": {"test": "round(datum.value * 10) % 2 == 0", "value": 1.8}, "value": 0.9}}}
 },
 "layer": [
  {"mark": {"type": "line", "color": "#6B96CF", "strokeWidth": 2.8}},
  {"mark": {"type": "errorbar", "color": "#6B96CF", "thickness": 2.7, "ticks": {"size": 14}}, "encoding": {"yError": {"field": "e"}}},
  {"mark": {"type": "point", "filled": true, "opacity": 1, "size": 190, "color": "#6B96CF"}}
 ]},
{"width": 416, "height": 233, "data": {"name": "d"}, "transform": [{"filter": "datum.s == 'ABT147' && datum.k == 'n2o5'"}],
 "encoding": {
  "x": {"field": "d", "type": "temporal", "title": "Date", "scale": {"type": "utc", "nice": false, "domain": [{"year": 2016, "month": 11, "date": 15, "utc": true}, {"year": 2019, "month": 1, "date": 19, "utc": true}]}, "axis": {"labelAngle": 270, "labelOverlap": false, "labelPadding": 6, "titlePadding": 4, "labelExpr": "utcmonth(datum.value) % 6 == 0 ? utcFormat(datum.value, '%Y-%m') : ''", "tickOpacity": {"condition": {"test": "utcmonth(datum.value) % 6 == 0", "value": 1}, "value": 0}, "values": [{"year": 2017, "month": 1, "date": 1, "utc": true}, {"year": 2017, "month": 4, "date": 1, "utc": true}, {"year": 2017, "month": 7, "date": 1, "utc": true}, {"year": 2017, "month": 10, "date": 1, "utc": true}, {"year": 2018, "month": 1, "date": 1, "utc": true}, {"year": 2018, "month": 4, "date": 1, "utc": true}, {"year": 2018, "month": 7, "date": 1, "utc": true}, {"year": 2018, "month": 10, "date": 1, "utc": true}, {"year": 2019, "month": 1, "date": 1, "utc": true}], "gridWidth": {"condition": {"test": "utcmonth(datum.value) % 6 == 0", "value": 1.8}, "value": 0.9}}},
  "y": {"field": "v", "type": "quantitative", "title": null, "scale": {"domain": [0.03, 0.683], "nice": false, "zero": false}, "axis": {"labels": false, "ticks": false, "values": [0.1, 0.2, 0.3, 0.4, 0.5, 0.6], "gridWidth": {"condition": {"test": "round(datum.value * 10) % 2 == 0", "value": 1.8}, "value": 0.9}}}
 },
 "layer": [
  {"mark": {"type": "line", "color": "#6B96CF", "strokeWidth": 2.8}},
  {"mark": {"type": "errorbar", "color": "#6B96CF", "thickness": 2.7, "ticks": {"size": 14}}, "encoding": {"yError": {"field": "e"}}},
  {"mark": {"type": "point", "filled": true, "opacity": 1, "size": 190, "color": "#6B96CF"}}
 ]},
{"width": 416, "height": 233, "data": {"name": "d"}, "transform": [{"filter": "datum.s == 'WST109' && datum.k == 'n2o5'"}],
 "encoding": {
  "x": {"field": "d", "type": "temporal", "title": null, "scale": {"type": "utc", "nice": false, "domain": [{"year": 2016, "month": 11, "date": 15, "utc": true}, {"year": 2019, "month": 1, "date": 19, "utc": true}]}, "axis": {"labelAngle": 270, "labelOverlap": false, "labelPadding": 6, "labelExpr": "utcmonth(datum.value) % 6 == 0 ? utcFormat(datum.value, '%Y-%m') : ''", "tickOpacity": {"condition": {"test": "utcmonth(datum.value) % 6 == 0", "value": 1}, "value": 0}, "values": [{"year": 2017, "month": 1, "date": 1, "utc": true}, {"year": 2017, "month": 4, "date": 1, "utc": true}, {"year": 2017, "month": 7, "date": 1, "utc": true}, {"year": 2017, "month": 10, "date": 1, "utc": true}, {"year": 2018, "month": 1, "date": 1, "utc": true}, {"year": 2018, "month": 4, "date": 1, "utc": true}, {"year": 2018, "month": 7, "date": 1, "utc": true}, {"year": 2018, "month": 10, "date": 1, "utc": true}, {"year": 2019, "month": 1, "date": 1, "utc": true}], "gridWidth": {"condition": {"test": "utcmonth(datum.value) % 6 == 0", "value": 1.8}, "value": 0.9}}},
  "y": {"field": "v", "type": "quantitative", "title": null, "scale": {"domain": [0.03, 0.683], "nice": false, "zero": false}, "axis": {"labels": false, "ticks": false, "values": [0.1, 0.2, 0.3, 0.4, 0.5, 0.6], "gridWidth": {"condition": {"test": "round(datum.value * 10) % 2 == 0", "value": 1.8}, "value": 0.9}}}
 },
 "layer": [
  {"mark": {"type": "line", "color": "#6B96CF", "strokeWidth": 2.8}},
  {"mark": {"type": "errorbar", "color": "#6B96CF", "thickness": 2.7, "ticks": {"size": 14}}, "encoding": {"yError": {"field": "e"}}},
  {"mark": {"type": "point", "filled": true, "opacity": 1, "size": 190, "color": "#6B96CF"}}
 ]}
]
}
